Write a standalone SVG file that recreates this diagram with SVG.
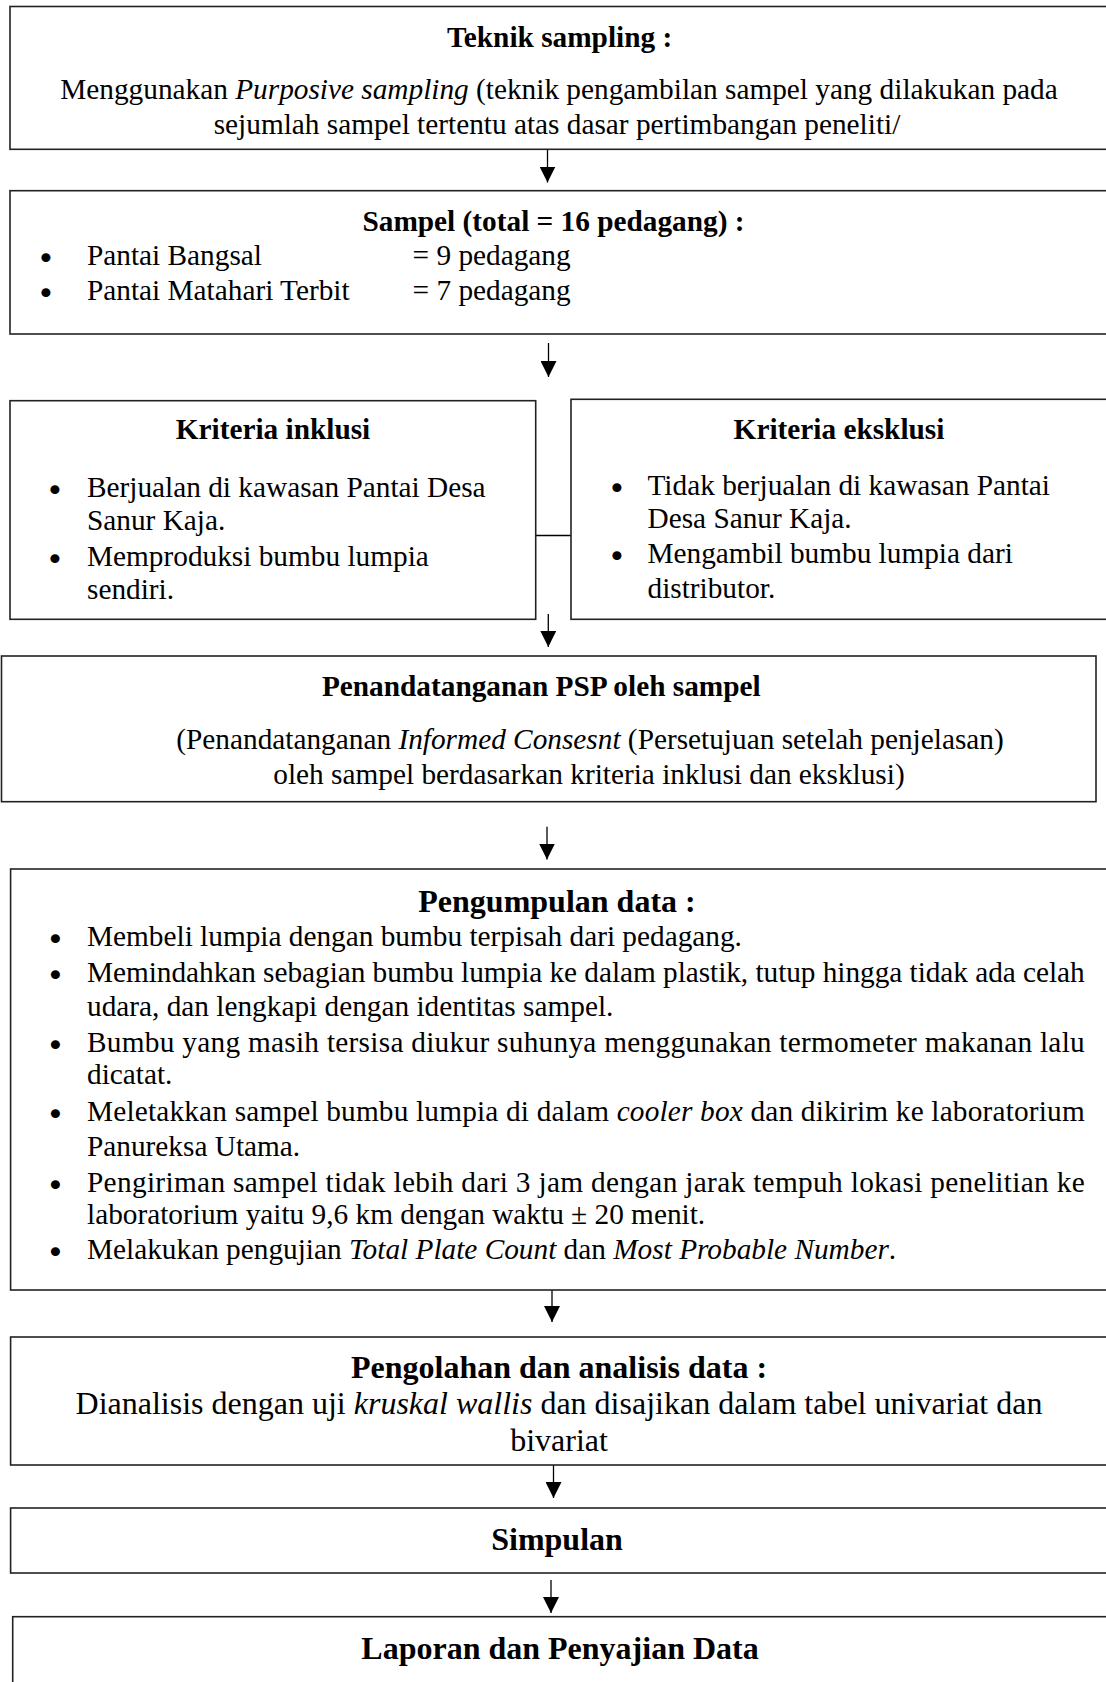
<svg xmlns="http://www.w3.org/2000/svg" width="1106" height="1682" viewBox="0 0 1106 1682">
<style>
.box{fill:#fff;stroke:#222;stroke-width:1.6}
.t{font-family:"Liberation Serif","Times New Roman",serif;font-size:29.3px;fill:#000}
.b{font-weight:bold}
.h2{font-size:32px}
.c{text-anchor:middle}
.i{font-style:italic}
.bul{font-family:"DejaVu Sans",sans-serif;font-size:31px;text-anchor:middle;fill:#000}
.ln{stroke:#000;stroke-width:1.3;fill:none}
</style>
<defs>
<marker id="ah" markerUnits="userSpaceOnUse" markerWidth="16" markerHeight="16" viewBox="0 0 16 16" refX="16" refY="8" orient="auto">
<path d="M0,0 L16,8 L0,16 z" fill="#000"/>
</marker>
</defs>
<rect width="1106" height="1682" fill="#fff"/>

<g id="connectors">
<line class="ln" x1="547.5" y1="149" x2="547.5" y2="182.5" marker-end="url(#ah)"/>
<line class="ln" x1="548.5" y1="343" x2="548.5" y2="377" marker-end="url(#ah)"/>
<line class="ln" x1="535.7" y1="535.5" x2="571" y2="535.5"/>
<line class="ln" x1="548.3" y1="614" x2="548.3" y2="647" marker-end="url(#ah)"/>
<line class="ln" x1="547" y1="826.7" x2="547" y2="859.5" marker-end="url(#ah)"/>
<line class="ln" x1="552" y1="1290" x2="552" y2="1322" marker-end="url(#ah)"/>
<line class="ln" x1="553.5" y1="1465" x2="553.5" y2="1498" marker-end="url(#ah)"/>
<line class="ln" x1="551" y1="1580" x2="551" y2="1613" marker-end="url(#ah)"/>
</g>

<g id="teknik-sampling">
<rect class="box" x="10" y="6.5" width="1110" height="142.8"/>
<text class="t b c" x="559.6" y="47">Teknik sampling :</text>
<text class="t c" x="559" y="98.8">Menggunakan <tspan class="i">Purposive sampling</tspan> (teknik pengambilan sampel yang dilakukan pada</text>
<text class="t c" x="557" y="133.8">sejumlah sampel tertentu atas dasar pertimbangan peneliti/</text>
</g>

<g id="sampel">
<rect class="box" x="10" y="190.7" width="1110" height="143.3"/>
<text class="t b c" x="553.5" y="230.5">Sampel (total = 16 pedagang) :</text>
<text class="bul" x="46" y="268.5">•</text>
<text class="t" x="87" y="264.5">Pantai Bangsal</text>
<text class="t" x="412.6" y="264.5">= 9 pedagang</text>
<text class="bul" x="46" y="303.5">•</text>
<text class="t" x="87" y="299.5">Pantai Matahari Terbit</text>
<text class="t" x="412.6" y="299.5">= 7 pedagang</text>
</g>

<g id="kriteria-inklusi">
<rect class="box" x="10" y="400.7" width="525.7" height="218.6"/>
<text class="t b c" x="273" y="439">Kriteria inklusi</text>
<text class="bul" x="55" y="500.5">•</text>
<text class="t" x="87" y="496.5">Berjualan di kawasan Pantai Desa</text>
<text class="t" x="87" y="529.5">Sanur Kaja.</text>
<text class="bul" x="55" y="569.5">•</text>
<text class="t" x="87" y="565.5">Memproduksi bumbu lumpia</text>
<text class="t" x="87" y="598.5">sendiri.</text>
</g>

<g id="kriteria-eksklusi">
<rect class="box" x="571" y="399.3" width="545" height="220"/>
<text class="t b c" x="839" y="438.5">Kriteria eksklusi</text>
<text class="bul" x="617" y="499">•</text>
<text class="t" x="647.5" y="495">Tidak berjualan di kawasan Pantai</text>
<text class="t" x="647.5" y="527.5">Desa Sanur Kaja.</text>
<text class="bul" x="617" y="566.5">•</text>
<text class="t" x="647.5" y="562.5">Mengambil bumbu lumpia dari</text>
<text class="t" x="647.5" y="597.5">distributor.</text>
</g>

<g id="penandatanganan-psp">
<rect class="box" x="1.5" y="656" width="1094.5" height="145.7"/>
<text class="t b c" x="541.3" y="695.5">Penandatanganan PSP oleh sampel</text>
<text class="t c" x="590" y="748.8">(Penandatanganan <tspan class="i">Informed Consesnt</tspan> (Persetujuan setelah penjelasan)</text>
<text class="t c" x="589" y="783.8">oleh sampel berdasarkan kriteria inklusi dan eksklusi)</text>
</g>

<g id="pengumpulan-data">
<rect class="box" x="10.6" y="869" width="1110" height="421"/>
<text class="t b c h2" x="557" y="911.5">Pengumpulan data :</text>
<text class="bul" x="55.5" y="950">•</text>
<text class="t" x="87" y="946">Membeli lumpia dengan bumbu terpisah dari pedagang.</text>
<text class="bul" x="55.5" y="986">•</text>
<text class="t" x="87" y="982" textLength="997.7" lengthAdjust="spacing">Memindahkan sebagian bumbu lumpia ke dalam plastik, tutup hingga tidak ada celah</text>
<text class="t" x="87" y="1016">udara, dan lengkapi dengan identitas sampel.</text>
<text class="bul" x="55.5" y="1056">•</text>
<text class="t" x="87" y="1052" textLength="997.7" lengthAdjust="spacing">Bumbu yang masih tersisa diukur suhunya menggunakan termometer makanan lalu</text>
<text class="t" x="87" y="1084">dicatat.</text>
<text class="bul" x="55.5" y="1125">•</text>
<text class="t" x="87" y="1121" textLength="997.7" lengthAdjust="spacing">Meletakkan sampel bumbu lumpia di dalam <tspan class="i">cooler box</tspan> dan dikirim ke laboratorium</text>
<text class="t" x="87" y="1155.5">Panureksa Utama.</text>
<text class="bul" x="55.5" y="1196">•</text>
<text class="t" x="87" y="1192" textLength="997.7" lengthAdjust="spacing">Pengiriman sampel tidak lebih dari 3 jam dengan jarak tempuh lokasi penelitian ke</text>
<text class="t" x="87" y="1223.5">laboratorium yaitu 9,6 km dengan waktu ± 20 menit.</text>
<text class="bul" x="55.5" y="1262.5">•</text>
<text class="t" x="87" y="1258.5">Melakukan pengujian <tspan class="i">Total Plate Count</tspan> dan <tspan class="i">Most Probable Number</tspan>.</text>
</g>

<g id="pengolahan-analisis">
<rect class="box" x="10.6" y="1337" width="1110" height="128"/>
<text class="t b c h2" x="559" y="1378">Pengolahan dan analisis data :</text>
<text class="t c h2" x="559" y="1413.5">Dianalisis dengan uji <tspan class="i">kruskal wallis</tspan> dan disajikan dalam tabel univariat dan</text>
<text class="t c h2" x="559" y="1450.5">bivariat</text>
</g>

<g id="simpulan">
<rect class="box" x="10.6" y="1508" width="1110" height="65"/>
<text class="t b c h2" x="557" y="1550">Simpulan</text>
</g>

<g id="laporan">
<rect class="box" x="12.7" y="1616.7" width="1110" height="100"/>
<text class="t b c h2" x="560" y="1658.5">Laporan dan Penyajian Data</text>
</g>
</svg>
